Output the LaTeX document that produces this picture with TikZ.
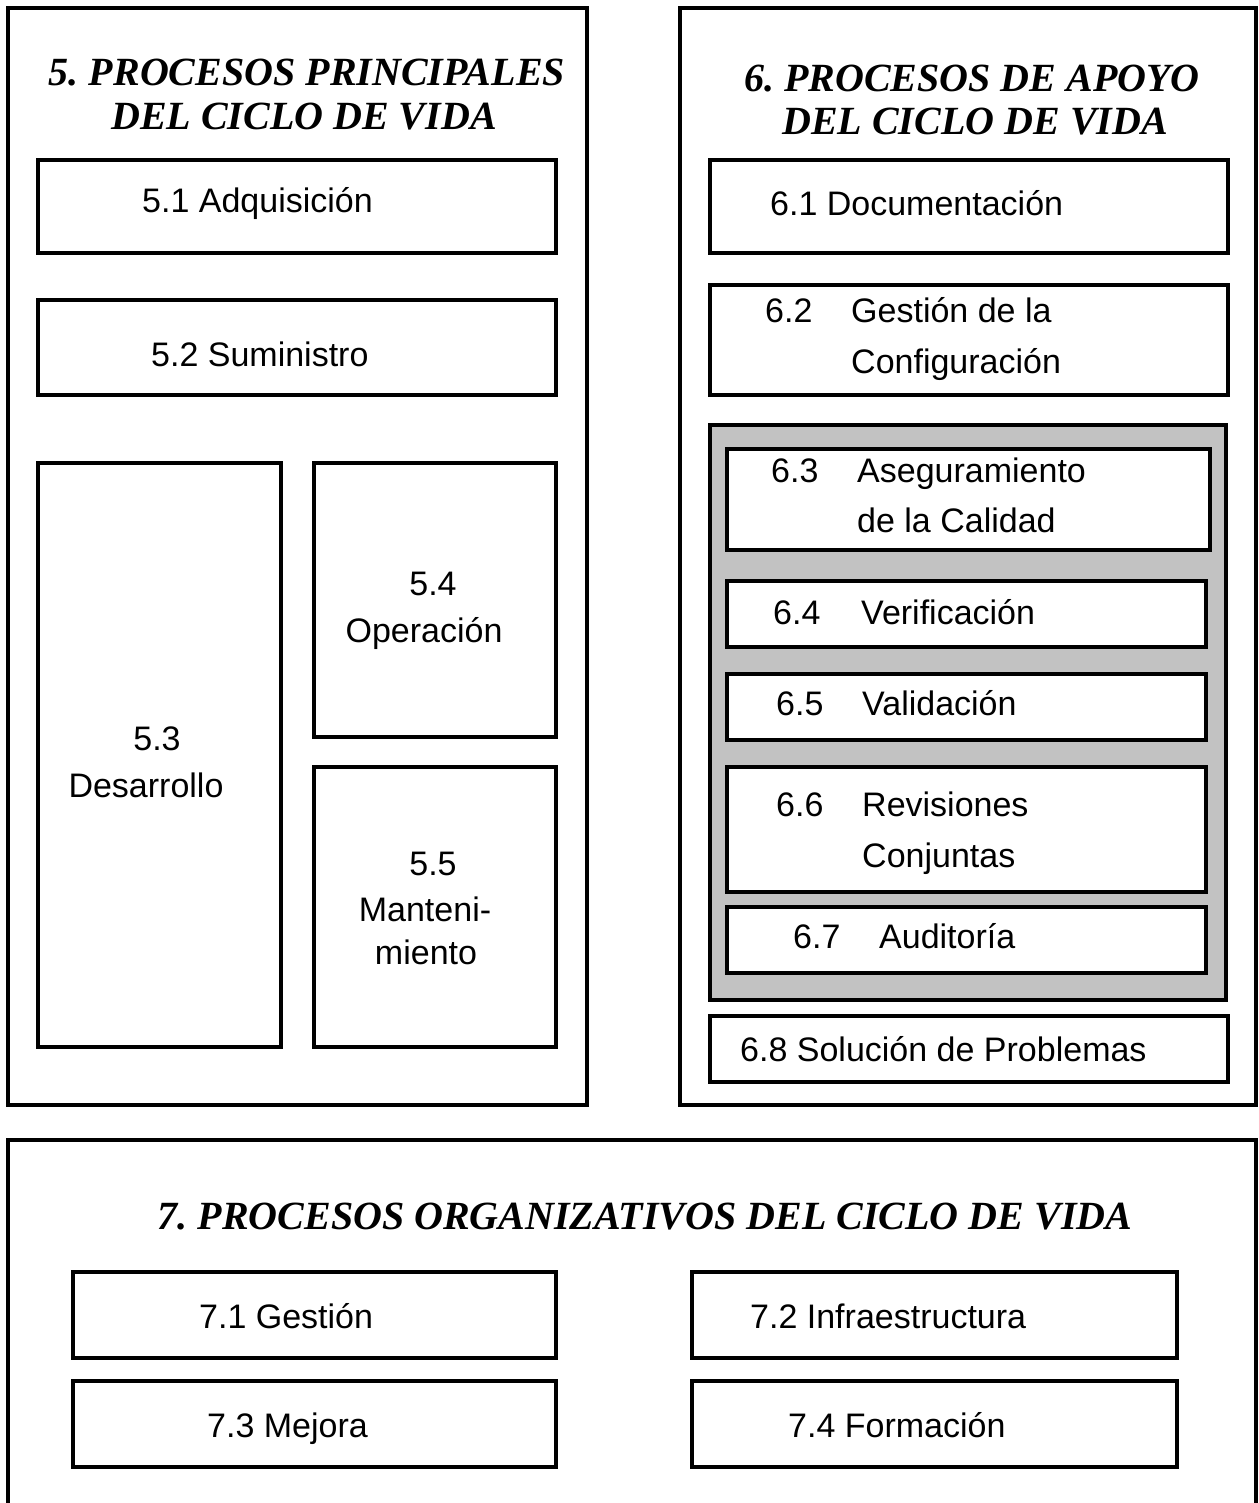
\documentclass[tikz,border=0pt]{standalone}
\usepackage{fontspec}
\setmainfont{Liberation Serif}
\setsansfont{Liberation Sans}
\frenchspacing

\begin{document}
\begin{tikzpicture}[x=1pt, y=-1pt]
		\tikzset{box/.style={draw=black, line width=3.3pt, inner sep=0pt, fill=white}};
		\tikzset{shade/.style={draw=black, line width=3.3pt, inner sep=0pt, fill=black!24}};
		\tikzset{ttl/.style={font=\bfseries\itshape\fontsize{40}{44}\selectfont, inner sep=0pt, anchor=base}};
		\tikzset{lbl/.style={font=\sffamily\fontsize{34}{47}\selectfont, inner sep=0pt, anchor=base west}};
		\tikzset{lblc/.style={font=\sffamily\fontsize{34}{47}\selectfont, inner sep=0pt, anchor=base}};

		\useasboundingbox (0,0) rectangle (1258,1503);
		\clip (0,0) rectangle (1258,1503);

		% outer frames
		\node[box, minimum width=579, minimum height=1097] (p5) at (297.5,556.5) {};
		\node[box, minimum width=576, minimum height=1097] (p6) at (968,556.5) {};
		\node[box, minimum width=1248, minimum height=380] (p7) at (632,1330) {};

		% 5. principales
		\node[ttl] (t5a) at (307,86) {5. PROCESOS PRINCIPALES};
		\node[ttl] (t5b) at (304,130) {DEL CICLO DE VIDA};

		\node[box, minimum width=518, minimum height=93] (b51) at (297,206.5) {};
		\node[box, minimum width=518, minimum height=95] (b52) at (297,347.5) {};
		\node[box, minimum width=243, minimum height=584] (b53) at (159.5,755) {};
		\node[box, minimum width=242, minimum height=274] (b54) at (435,600) {};
		\node[box, minimum width=242, minimum height=280] (b55) at (435,907) {};

		\node[lbl] (l51) at (142,213) {5.1 Adquisición};
		\node[lbl] (l52) at (151,366) {5.2 Suministro};
		\node[lblc] (l53a) at (157,750) {5.3};
		\node[lblc] (l53b) at (146,797) {Desarrollo};
		\node[lblc] (l54a) at (433,595) {5.4};
		\node[lblc] (l54b) at (424,642) {Operación};
		\node[lblc] (l55a) at (433,875) {5.5};
		\node[lblc] (l55b) at (425,921) {Manteni-};
		\node[lblc] (l55c) at (426,964) {miento};

		% 6. apoyo
		\node[ttl] (t6a) at (972,92) {6. PROCESOS DE APOYO};
		\node[ttl] (t6b) at (975,135) {DEL CICLO DE VIDA};

		\node[box, minimum width=518, minimum height=93] (b61) at (969,206.5) {};
		\node[box, minimum width=518, minimum height=110] (b62) at (969,340) {};
		\node[shade, minimum width=516, minimum height=575] (sh) at (968,712.5) {};
		\node[box, minimum width=483, minimum height=101] (b63) at (968.5,499.5) {};
		\node[box, minimum width=479, minimum height=66] (b64) at (966.5,614) {};
		\node[box, minimum width=479, minimum height=66] (b65) at (966.5,707) {};
		\node[box, minimum width=479, minimum height=125] (b66) at (966.5,829.5) {};
		\node[box, minimum width=479, minimum height=66] (b67) at (966.5,940) {};
		\node[box, minimum width=518, minimum height=66] (b68) at (969,1049) {};

		\node[lbl] (l61) at (770,216) {6.1 Documentación};
		\node[lbl] (n62) at (765,323) {6.2};
		\node[lbl] (l62a) at (851,323) {Gestión de la};
		\node[lbl] (l62b) at (851,373) {Configuración};
		\node[lbl] (n63) at (771,482) {6.3};
		\node[lbl] (l63a) at (857,482) {Aseguramiento};
		\node[lbl] (l63b) at (857,532) {de la Calidad};
		\node[lbl] (n64) at (773,624) {6.4};
		\node[lbl] (l64) at (861,624) {Verificación};
		\node[lbl] (n65) at (776,715) {6.5};
		\node[lbl] (l65) at (862,715) {Validación};
		\node[lbl] (n66) at (776,816) {6.6};
		\node[lbl] (l66a) at (862,816) {Revisiones};
		\node[lbl] (l66b) at (862,867) {Conjuntas};
		\node[lbl] (n67) at (793,948) {6.7};
		\node[lbl] (l67) at (879,948) {Auditoría};
		\node[lbl] (l68) at (740,1061) {6.8 Solución de Problemas};

		% 7. organizativos
		\node[ttl] (t7) at (645,1229) {7. PROCESOS ORGANIZATIVOS DEL CICLO DE VIDA};

		\node[box, minimum width=483, minimum height=86] (b71) at (314.5,1315) {};
		\node[box, minimum width=485, minimum height=86] (b72) at (934.5,1315) {};
		\node[box, minimum width=483, minimum height=86] (b73) at (314.5,1424) {};
		\node[box, minimum width=485, minimum height=86] (b74) at (934.5,1424) {};

		\node[lbl] (l71) at (199,1328) {7.1 Gestión};
		\node[lbl] (l72) at (750,1328) {7.2 Infraestructura};
		\node[lbl] (l73) at (207,1437) {7.3 Mejora};
		\node[lbl] (l74) at (788,1437) {7.4 Formación};
	\end{tikzpicture}
\end{document}
